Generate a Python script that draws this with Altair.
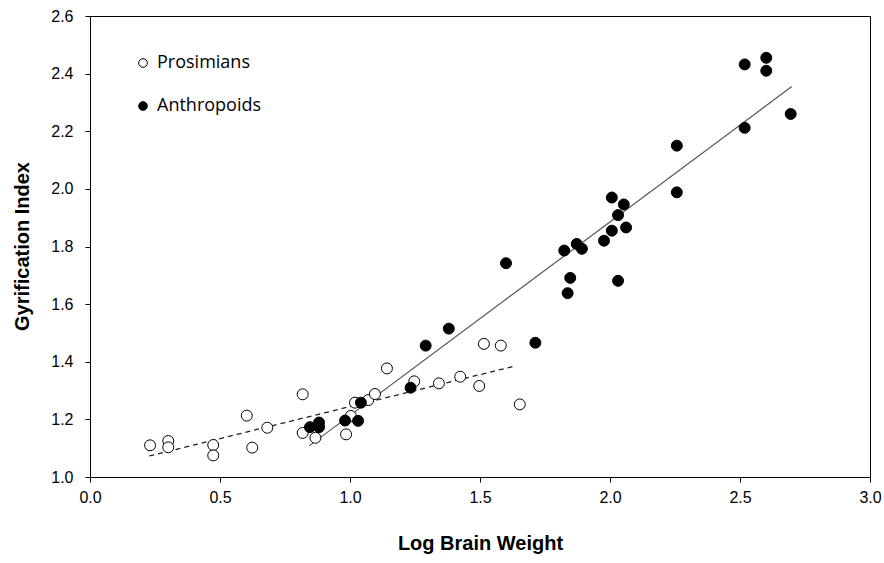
import altair as alt
import pandas as pd

# Prosimians (open circles)
pro_x = [0.231, 0.301, 0.301, 0.474, 0.474, 0.603, 0.624, 0.682, 0.818, 0.818,
         0.867, 0.985, 1.003, 1.019, 1.070, 1.096, 1.142, 1.247, 1.342, 1.424,
         1.497, 1.515, 1.580, 1.653]
pro_y = [1.110, 1.125, 1.103, 1.111, 1.075, 1.213, 1.102, 1.171, 1.287, 1.153,
         1.136, 1.148, 1.212, 1.258, 1.267, 1.288, 1.377, 1.332, 1.325, 1.348,
         1.316, 1.462, 1.456, 1.252]

# Anthropoids (filled circles)
ant_x = [0.846, 0.881, 0.881, 0.981, 1.031, 1.042, 1.233, 1.291, 1.380, 1.600,
         1.713, 1.824, 1.837, 1.847, 1.872, 1.892, 1.977, 2.007, 2.007, 2.031,
         2.053, 2.062, 2.031, 2.257, 2.257, 2.518, 2.601, 2.601, 2.518, 2.695]
ant_y = [1.173, 1.189, 1.173, 1.196, 1.195, 1.258, 1.310, 1.456, 1.515, 1.742,
         1.466, 1.786, 1.638, 1.691, 1.809, 1.792, 1.820, 1.970, 1.855, 1.909,
         1.946, 1.866, 1.681, 2.150, 1.988, 2.432, 2.455, 2.410, 2.212, 2.260]

# Fit lines (endpoints)
pro_line_x = [0.228, 1.638]
pro_line_y = [1.073, 1.386]
ant_line_x = [0.843, 2.699]
ant_line_y = [1.108, 2.355]

groups = ["Prosimians", "Anthropoids"]

pts = pd.DataFrame({
    "x": pro_x + ant_x,
    "y": pro_y + ant_y,
    "group": [groups[0]] * len(pro_x) + [groups[1]] * len(ant_x),
})
pro_line = pd.DataFrame({"x": pro_line_x, "y": pro_line_y})
ant_line = pd.DataFrame({"x": ant_line_x, "y": ant_line_y})

FONT = "Liberation Sans"

xscale = alt.Scale(domain=[0, 3], nice=False, zero=False)
yscale = alt.Scale(domain=[1.0, 2.6], nice=False, zero=False)

xaxis = alt.Axis(
    title="Log Brain Weight", values=[0, 0.5, 1, 1.5, 2, 2.5, 3], format=".1f",
    grid=False, tickSize=5, labelPadding=7, labelFont=FONT, labelFontSize=16,
    labelColor="#000", tickColor="#000", domainColor="#000",
    titleFont=FONT, titleFontSize=20, titleFontWeight="bold", titleColor="#000",
    titleX=390, titleY=66, titleBaseline="middle", titleAlign="center",
    labelFlush=False,
)
yaxis = alt.Axis(
    title="Gyrification Index", values=[1.0, 1.2, 1.4, 1.6, 1.8, 2.0, 2.2, 2.4, 2.6],
    format=".1f", grid=False, tickSize=5, labelPadding=12, labelFont=FONT,
    labelFontSize=16, labelColor="#000", tickColor="#000", domainColor="#000",
    titleFont=FONT, titleFontSize=20, titleFontWeight="bold", titleColor="#000",
    titleX=-68, titleY=230, titleBaseline="middle", titleAlign="center", titleAngle=-90,
    labelFlush=False,
)

points = alt.Chart(pts).mark_point(
    shape="circle", filled=False, size=120, stroke="black", strokeWidth=1, opacity=1
).encode(
    x=alt.X("x:Q", scale=xscale, axis=xaxis),
    y=alt.Y("y:Q", scale=yscale, axis=yaxis),
    fill=alt.Fill(
        "group:N",
        scale=alt.Scale(domain=groups, range=["white", "black"]),
        legend=alt.Legend(
            title=None, orient="none", legendX=44, legendY=38,
            labelFont="Open Sans", labelFontSize=18, labelColor="#000",
            symbolSize=75, symbolStrokeColor="black", symbolStrokeWidth=1,
            symbolType="circle", rowPadding=25, labelOffset=5, padding=0,
        ),
    ),
)

line_pro = alt.Chart(pro_line).mark_line(
    color="#222", strokeWidth=1.3, strokeDash=[5, 4]
).encode(x=alt.X("x:Q", scale=xscale), y=alt.Y("y:Q", scale=yscale))

line_ant = alt.Chart(ant_line).mark_line(
    color="#555", strokeWidth=1.2
).encode(x=alt.X("x:Q", scale=xscale), y=alt.Y("y:Q", scale=yscale))

chart = alt.layer(line_pro, line_ant, points).properties(
    width=780, height=461,
    autosize=alt.AutoSizeParams(type="none"),
    padding={"left": 90, "top": 16, "right": 14, "bottom": 86},
    background="white",
).configure_view(
    stroke="black", strokeWidth=1
)

chart.save("out.html", embed_options={"renderer": "svg", "actions": False})
